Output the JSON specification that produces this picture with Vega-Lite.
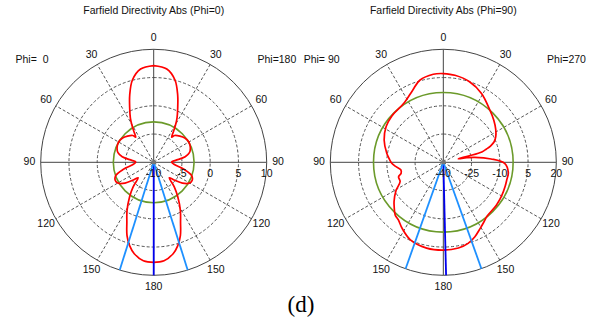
{
  "$schema": "https://vega.github.io/schema/vega-lite/v6.json",
  "width": 594,
  "height": 324,
  "padding": 0,
  "autosize": {"type": "none"},
  "background": "white",
  "config": {
    "view": {"stroke": null},
    "text": {"font": "Liberation Sans", "fontSize": 10.5, "color": "#111111"}
  },
  "datasets": {
    "curve": [
      {"plot": "A", "theta": 0, "db": 7.12}, {"plot": "A", "theta": 8, "db": 6.67}, {"plot": "A", "theta": 14.5, "db": 5.04},
      {"plot": "A", "theta": 19.6, "db": 2.65}, {"plot": "A", "theta": 24, "db": 0.44}, {"plot": "A", "theta": 27.8, "db": -1.15},
      {"plot": "A", "theta": 30, "db": -2.21}, {"plot": "A", "theta": 33, "db": -3.63}, {"plot": "A", "theta": 35.5, "db": -4.51},
      {"plot": "A", "theta": 38, "db": -3.98}, {"plot": "A", "theta": 45, "db": -3.45}, {"plot": "A", "theta": 52, "db": -3.01},
      {"plot": "A", "theta": 60, "db": -2.83}, {"plot": "A", "theta": 68, "db": -3.01}, {"plot": "A", "theta": 75, "db": -3.45},
      {"plot": "A", "theta": 80, "db": -4.34}, {"plot": "A", "theta": 85, "db": -6.11}, {"plot": "A", "theta": 89, "db": -6.81},
      {"plot": "A", "theta": 95, "db": -6.46}, {"plot": "A", "theta": 103, "db": -4.51}, {"plot": "A", "theta": 109, "db": -2.92},
      {"plot": "A", "theta": 115, "db": -2.48}, {"plot": "A", "theta": 120, "db": -2.65}, {"plot": "A", "theta": 126, "db": -3.72},
      {"plot": "A", "theta": 131, "db": -5.22}, {"plot": "A", "theta": 135, "db": -6.11}, {"plot": "A", "theta": 140, "db": -4.34},
      {"plot": "A", "theta": 145, "db": -2.57}, {"plot": "A", "theta": 151, "db": -0.27}, {"plot": "A", "theta": 156, "db": 1.68},
      {"plot": "A", "theta": 160, "db": 3.81}, {"plot": "A", "theta": 164, "db": 5.4}, {"plot": "A", "theta": 168, "db": 6.55},
      {"plot": "A", "theta": 174, "db": 7.52}, {"plot": "A", "theta": 180, "db": 7.7}, {"plot": "A", "theta": 186, "db": 7.52},
      {"plot": "A", "theta": 192, "db": 6.55}, {"plot": "A", "theta": 196, "db": 5.4}, {"plot": "A", "theta": 200, "db": 3.81},
      {"plot": "A", "theta": 204, "db": 1.68}, {"plot": "A", "theta": 209, "db": -0.27}, {"plot": "A", "theta": 215, "db": -2.57},
      {"plot": "A", "theta": 220, "db": -4.34}, {"plot": "A", "theta": 225, "db": -6.11}, {"plot": "A", "theta": 229, "db": -5.22},
      {"plot": "A", "theta": 234, "db": -3.72}, {"plot": "A", "theta": 240, "db": -2.65}, {"plot": "A", "theta": 245, "db": -2.48},
      {"plot": "A", "theta": 251, "db": -2.92}, {"plot": "A", "theta": 257, "db": -4.51}, {"plot": "A", "theta": 265, "db": -6.46},
      {"plot": "A", "theta": 271, "db": -6.81}, {"plot": "A", "theta": 275, "db": -6.11}, {"plot": "A", "theta": 280, "db": -4.34},
      {"plot": "A", "theta": 285, "db": -3.45}, {"plot": "A", "theta": 292, "db": -3.01}, {"plot": "A", "theta": 300, "db": -2.83},
      {"plot": "A", "theta": 308, "db": -3.01}, {"plot": "A", "theta": 315, "db": -3.45}, {"plot": "A", "theta": 322, "db": -3.98},
      {"plot": "A", "theta": 324.5, "db": -4.51}, {"plot": "A", "theta": 327, "db": -3.63}, {"plot": "A", "theta": 330, "db": -2.21},
      {"plot": "A", "theta": 332.2, "db": -1.15}, {"plot": "A", "theta": 336, "db": 0.44}, {"plot": "A", "theta": 340.4, "db": 2.65},
      {"plot": "A", "theta": 345.5, "db": 5.04}, {"plot": "A", "theta": 352, "db": 6.67}, {"plot": "A", "theta": 360, "db": 7.12},

      {"plot": "B", "theta": 0, "db": 7.13}, {"plot": "B", "theta": 7.6, "db": 6.6}, {"plot": "B", "theta": 18, "db": 5.01},
      {"plot": "B", "theta": 29, "db": 1.84}, {"plot": "B", "theta": 42, "db": -2.93}, {"plot": "B", "theta": 50, "db": -5.05},
      {"plot": "B", "theta": 58, "db": -7.17}, {"plot": "B", "theta": 64, "db": -9.02}, {"plot": "B", "theta": 68, "db": -10.87},
      {"plot": "B", "theta": 71, "db": -13.52}, {"plot": "B", "theta": 73, "db": -16.17}, {"plot": "B", "theta": 75, "db": -18.82},
      {"plot": "B", "theta": 76, "db": -26.23}, {"plot": "B", "theta": 77, "db": -31.84}, {"plot": "B", "theta": 79, "db": -27.29},
      {"plot": "B", "theta": 81, "db": -23.05}, {"plot": "B", "theta": 86, "db": -14.58}, {"plot": "B", "theta": 91, "db": -7.43},
      {"plot": "B", "theta": 99, "db": -5.05}, {"plot": "B", "theta": 105, "db": -5.05}, {"plot": "B", "theta": 111, "db": -4.78},
      {"plot": "B", "theta": 120, "db": -4.25}, {"plot": "B", "theta": 129, "db": -3.78}, {"plot": "B", "theta": 141, "db": -3.14},
      {"plot": "B", "theta": 146, "db": -1.61}, {"plot": "B", "theta": 151, "db": 0.25}, {"plot": "B", "theta": 157, "db": 2.9},
      {"plot": "B", "theta": 163, "db": 5.01}, {"plot": "B", "theta": 170, "db": 6.23}, {"plot": "B", "theta": 180, "db": 6.6},
      {"plot": "B", "theta": 191, "db": 6.39}, {"plot": "B", "theta": 203, "db": 4.75}, {"plot": "B", "theta": 212, "db": 1.31},
      {"plot": "B", "theta": 218, "db": -1.24}, {"plot": "B", "theta": 222.5, "db": -2.14}, {"plot": "B", "theta": 228, "db": -4.89},
      {"plot": "B", "theta": 231.5, "db": -6.58}, {"plot": "B", "theta": 239, "db": -10.66}, {"plot": "B", "theta": 246, "db": -14.9},
      {"plot": "B", "theta": 252, "db": -15.0}, {"plot": "B", "theta": 255.5, "db": -16.86}, {"plot": "B", "theta": 260, "db": -17.07},
      {"plot": "B", "theta": 265.5, "db": -14.32}, {"plot": "B", "theta": 269, "db": -12.62}, {"plot": "B", "theta": 273, "db": -11.4},
      {"plot": "B", "theta": 279, "db": -9.6}, {"plot": "B", "theta": 290.6, "db": -6.43}, {"plot": "B", "theta": 302, "db": -4.2},
      {"plot": "B", "theta": 312, "db": -3.25}, {"plot": "B", "theta": 327, "db": -2.14}, {"plot": "B", "theta": 337, "db": 1.62},
      {"plot": "B", "theta": 344, "db": 5.33}, {"plot": "B", "theta": 353.5, "db": 7.08}, {"plot": "B", "theta": 360, "db": 7.13}
    ],
    "rings": [
      {"plot": "A", "db": -5, "kind": "grid"}, {"plot": "A", "db": 0, "kind": "grid"}, {"plot": "A", "db": 5, "kind": "grid"},
      {"plot": "A", "db": 10, "kind": "outer"}, {"plot": "A", "db": -2.85, "kind": "beam"},
      {"plot": "B", "db": -25, "kind": "grid"}, {"plot": "B", "db": -10, "kind": "grid"}, {"plot": "B", "db": 5, "kind": "grid"},
      {"plot": "B", "db": 20, "kind": "outer"}, {"plot": "B", "db": -2.93, "kind": "beam"}
    ],
    "spokes": [
      {"plot": "A", "ang": 0}, {"plot": "A", "ang": 30}, {"plot": "A", "ang": 60}, {"plot": "A", "ang": 90}, {"plot": "A", "ang": 120}, {"plot": "A", "ang": 150},
      {"plot": "B", "ang": 0}, {"plot": "B", "ang": 30}, {"plot": "B", "ang": 60}, {"plot": "B", "ang": 90}, {"plot": "B", "ang": 120}, {"plot": "B", "ang": 150}
    ],
    "beams": [
      {"plot": "A", "theta": 180, "kind": "main"}, {"plot": "A", "theta": 162.5, "kind": "width"}, {"plot": "A", "theta": 197.5, "kind": "width"},
      {"plot": "B", "theta": 178.6, "kind": "main"}, {"plot": "B", "theta": 160.3, "kind": "width"}, {"plot": "B", "theta": 199.5, "kind": "width"}
    ],
    "angleLabels": [
      {"plot": "A", "ang": 0, "label": "0"}, {"plot": "A", "ang": 30, "label": "30"}, {"plot": "A", "ang": 60, "label": "60"},
      {"plot": "A", "ang": 90, "label": "90"}, {"plot": "A", "ang": 120, "label": "120"}, {"plot": "A", "ang": 150, "label": "150"},
      {"plot": "A", "ang": 180, "label": "180"}, {"plot": "A", "ang": 210, "label": "150"}, {"plot": "A", "ang": 240, "label": "120"},
      {"plot": "A", "ang": 270, "label": "90"}, {"plot": "A", "ang": 300, "label": "60"}, {"plot": "A", "ang": 330, "label": "30"},
      {"plot": "B", "ang": 0, "label": "0"}, {"plot": "B", "ang": 30, "label": "30"}, {"plot": "B", "ang": 60, "label": "60"},
      {"plot": "B", "ang": 90, "label": "90"}, {"plot": "B", "ang": 120, "label": "120"}, {"plot": "B", "ang": 150, "label": "150"},
      {"plot": "B", "ang": 180, "label": "180"}, {"plot": "B", "ang": 210, "label": "150"}, {"plot": "B", "ang": 240, "label": "120"},
      {"plot": "B", "ang": 270, "label": "90"}, {"plot": "B", "ang": 300, "label": "60"}, {"plot": "B", "ang": 330, "label": "30"}
    ],
    "dbLabels": [
      {"plot": "A", "db": -10, "label": "-10"}, {"plot": "A", "db": -5, "label": "-5"}, {"plot": "A", "db": 0, "label": "0"},
      {"plot": "A", "db": 5, "label": "5"}, {"plot": "A", "db": 10, "label": "10"},
      {"plot": "B", "db": -40, "label": "-40"}, {"plot": "B", "db": -25, "label": "-25"}, {"plot": "B", "db": -10, "label": "-10"},
      {"plot": "B", "db": 5, "label": "5"}, {"plot": "B", "db": 20, "label": "20"}
    ],
    "headers": [
      {"plot": "A", "role": "title", "label": "Farfield Directivity Abs (Phi=0)"},
      {"plot": "A", "role": "left", "label": "Phi=\u00a0\u00a00"},
      {"plot": "A", "role": "right", "label": "Phi=180"},
      {"plot": "B", "role": "title", "label": "Farfield Directivity Abs (Phi=90)"},
      {"plot": "B", "role": "left", "label": "Phi=\u00a090"},
      {"plot": "B", "role": "right", "label": "Phi=270"}
    ],
    "caption": [{"label": "(d)"}]
  },
  "encoding": {
    "x": {"field": "x", "type": "quantitative", "scale": {"domain": [-1.36018, 3.89646], "nice": false, "zero": false}, "axis": null},
    "y": {"field": "y", "type": "quantitative", "scale": {"domain": [-1.43097, 1.43628], "nice": false, "zero": false}, "axis": null}
  },
  "layer": [
    {
      "data": {"name": "rings"},
      "transform": [
        {"filter": "datum.kind == 'grid'"},
        {"calculate": "datum.plot == 'B' ? 2.563 : 0", "as": "x"},
        {"calculate": "0", "as": "y"},
        {"calculate": "max(0, (datum.db - (datum.plot == 'B' ? -40 : -10)) / (datum.plot == 'B' ? 60 : 20))", "as": "rho"}
      ],
      "mark": {"type": "arc", "theta": 0, "theta2": 6.2832, "filled": false, "stroke": "#555555", "strokeWidth": 1, "strokeDash": [3, 2]},
      "encoding": {"radius": {"field": "rho", "type": "quantitative", "stack": null, "scale": {"type": "linear", "domain": [0, 1.433628], "zero": true}}}
    },
    {
      "data": {"name": "spokes"},
      "transform": [
        {"filter": "datum.ang % 90 != 0"},
        {"calculate": "datum.plot == 'B' ? 2.563 : 0", "as": "cx"},
        {"calculate": "datum.cx + sin(datum.ang * PI / 180)", "as": "x"},
        {"calculate": "cos(datum.ang * PI / 180)", "as": "y"},
        {"calculate": "datum.cx - sin(datum.ang * PI / 180)", "as": "x2"},
        {"calculate": "-cos(datum.ang * PI / 180)", "as": "y2"}
      ],
      "mark": {"type": "rule", "stroke": "#555555", "strokeWidth": 1, "strokeDash": [3, 2]},
      "encoding": {"x2": {"field": "x2"}, "y2": {"field": "y2"}}
    },
    {
      "data": {"name": "spokes"},
      "transform": [
        {"filter": "datum.ang % 90 == 0"},
        {"calculate": "datum.plot == 'B' ? 2.563 : 0", "as": "cx"},
        {"calculate": "datum.cx + sin(datum.ang * PI / 180)", "as": "x"},
        {"calculate": "cos(datum.ang * PI / 180)", "as": "y"},
        {"calculate": "datum.cx - sin(datum.ang * PI / 180)", "as": "x2"},
        {"calculate": "-cos(datum.ang * PI / 180)", "as": "y2"}
      ],
      "mark": {"type": "rule", "stroke": "#444444", "strokeWidth": 1},
      "encoding": {"x2": {"field": "x2"}, "y2": {"field": "y2"}}
    },
    {
      "data": {"name": "rings"},
      "transform": [
        {"filter": "datum.kind == 'outer'"},
        {"calculate": "datum.plot == 'B' ? 2.563 : 0", "as": "x"},
        {"calculate": "0", "as": "y"},
        {"calculate": "max(0, (datum.db - (datum.plot == 'B' ? -40 : -10)) / (datum.plot == 'B' ? 60 : 20))", "as": "rho"}
      ],
      "mark": {"type": "arc", "theta": 0, "theta2": 6.2832, "filled": false, "stroke": "#444444", "strokeWidth": 1},
      "encoding": {"radius": {"field": "rho", "type": "quantitative", "stack": null, "scale": {"type": "linear", "domain": [0, 1.433628], "zero": true}}}
    },
    {
      "data": {"name": "rings"},
      "transform": [
        {"filter": "datum.kind == 'beam'"},
        {"calculate": "datum.plot == 'B' ? 2.563 : 0", "as": "x"},
        {"calculate": "0", "as": "y"},
        {"calculate": "max(0, (datum.db - (datum.plot == 'B' ? -40 : -10)) / (datum.plot == 'B' ? 60 : 20))", "as": "rho"}
      ],
      "mark": {"type": "arc", "theta": 0, "theta2": 6.2832, "filled": false, "stroke": "#6b9a2a", "strokeWidth": 1.6},
      "encoding": {"radius": {"field": "rho", "type": "quantitative", "stack": null, "scale": {"type": "linear", "domain": [0, 1.433628], "zero": true}}}
    },
    {
      "data": {"name": "curve"},
      "transform": [
        {"calculate": "datum.plot == 'B' ? 2.563 : 0", "as": "cx"},
        {"calculate": "max(0, (datum.db - (datum.plot == 'B' ? -40 : -10)) / (datum.plot == 'B' ? 60 : 20))", "as": "rho"},
        {"calculate": "datum.cx + datum.rho * sin(datum.theta * PI / 180)", "as": "x"},
        {"calculate": "datum.rho * cos(datum.theta * PI / 180)", "as": "y"}
      ],
      "mark": {"type": "line", "stroke": "#ff0000", "strokeWidth": 1.7, "interpolate": "catmull-rom"},
      "encoding": {
        "order": {"field": "theta", "type": "quantitative"},
        "detail": {"field": "plot", "type": "nominal"}
      }
    },
    {
      "data": {"name": "beams"},
      "transform": [
        {"calculate": "datum.plot == 'B' ? 2.563 : 0", "as": "x"},
        {"calculate": "0", "as": "y"},
        {"calculate": "datum.x + sin(datum.theta * PI / 180)", "as": "x2"},
        {"calculate": "cos(datum.theta * PI / 180)", "as": "y2"}
      ],
      "mark": {"type": "rule", "strokeWidth": 1.8},
      "encoding": {
        "x2": {"field": "x2"},
        "y2": {"field": "y2"},
        "color": {"field": "kind", "type": "nominal", "scale": {"domain": ["main", "width"], "range": ["#0000ee", "#1e90ff"]}, "legend": null}
      }
    },
    {
      "data": {"name": "headers"},
      "transform": [
        {"filter": "datum.role == 'title'"},
        {"calculate": "datum.plot == 'B' ? 2.563 : 0", "as": "x"},
        {"calculate": "0", "as": "y"}
      ],
      "mark": {"type": "point", "filled": true, "color": "#777777", "size": 18, "opacity": 1}
    },
    {
      "data": {"name": "angleLabels"},
      "transform": [
        {"calculate": "datum.plot == 'B' ? 2.563 : 0", "as": "cx"},
        {"calculate": "datum.cx + 1.1 * sin(datum.ang * PI / 180)", "as": "x"},
        {"calculate": "1.1 * cos(datum.ang * PI / 180)", "as": "y"}
      ],
      "mark": {"type": "text", "align": "center", "baseline": "middle"},
      "encoding": {"text": {"field": "label"}}
    },
    {
      "data": {"name": "dbLabels"},
      "transform": [
        {"calculate": "datum.plot == 'B' ? 2.563 : 0", "as": "cx"},
        {"calculate": "(datum.db - (datum.plot == 'B' ? -40 : -10)) / (datum.plot == 'B' ? 60 : 20)", "as": "rho"},
        {"calculate": "datum.cx + datum.rho", "as": "x"},
        {"calculate": "-0.101", "as": "y"}
      ],
      "mark": {"type": "text", "align": "center", "baseline": "middle"},
      "encoding": {"text": {"field": "label"}}
    },
    {
      "data": {"name": "headers"},
      "transform": [
        {"calculate": "datum.plot == 'B' ? 2.563 : 0", "as": "cx"},
        {"calculate": "datum.cx + (datum.role == 'left' ? -1.077 : datum.role == 'right' ? 1.09 : 0)", "as": "x"},
        {"calculate": "datum.role == 'title' ? 1.341 : 0.905", "as": "y"}
      ],
      "mark": {"type": "text", "align": "center", "baseline": "middle"},
      "encoding": {"text": {"field": "label"}}
    },
    {
      "data": {"name": "caption"},
      "transform": [
        {"calculate": "1.3035", "as": "x"},
        {"calculate": "-1.3248", "as": "y"}
      ],
      "mark": {"type": "text", "align": "center", "baseline": "alphabetic", "font": "Liberation Serif", "fontSize": 23, "color": "#000000"},
      "encoding": {"text": {"field": "label"}}
    }
  ]
}
